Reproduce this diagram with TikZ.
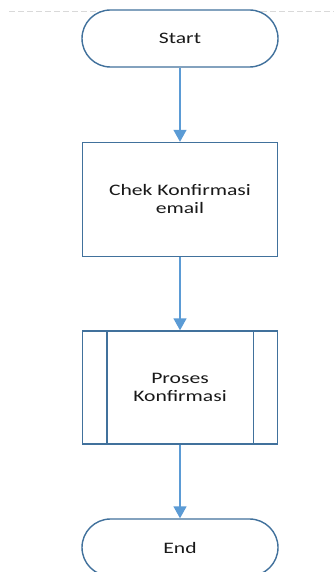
\documentclass[tikz,border=0pt]{standalone}
\usepackage{fontspec}
\setmainfont[FakeStretch=1.35]{Carlito}
\usetikzlibrary{arrows.meta}
\definecolor{edgeblue}{HTML}{41719C}
\definecolor{arrowblue}{HTML}{5B9BD5}
\begin{document}
\begin{tikzpicture}[x=1pt,y=-1pt,
  every node/.style={font=\fontsize{16}{18}\selectfont, text=black!90, align=center, inner sep=0pt},
  terminal/.style={draw=edgeblue, line width=1.4pt, fill=white, minimum width=196pt, minimum height=57pt, rounded corners=28.5pt},
  procbox/.style={draw=edgeblue, line width=1.4pt, fill=white, minimum width=195pt, minimum height=114pt},
  flow/.style={draw=arrowblue, line width=1.5pt, -{Triangle[width=13pt,length=12pt]}}
]
\useasboundingbox (0,0) rectangle (334,572);
\clip (0,0) rectangle (334,572);
\fill[white] (0,0) rectangle (334,572);
\coordinate (dl) at (9,11);
\coordinate (dr) at (334,11);
\draw[black!15, line width=0.8pt, dash pattern=on 6pt off 3pt] (dl) -- (dr);
\node[terminal] (start) at (180,38.5) {Start};
\node[procbox] (chek) at (180,199.5) {Chek Konfirmasi\\email};
\node[procbox, minimum height=113pt] (proses) at (180,387.5) {Proses\\Konfirmasi};
\draw[edgeblue, line width=1.4pt] ([xshift=25pt]proses.north west) -- ([xshift=25pt]proses.south west);
\draw[edgeblue, line width=1.4pt] ([xshift=-25pt]proses.north east) -- ([xshift=-25pt]proses.south east);
\node[terminal] (end) at (180,547.5) {End};
\draw[flow] (start) -- (chek);
\draw[flow] (chek) -- (proses);
\draw[flow] (proses) -- (end);
\end{tikzpicture}
\end{document}
